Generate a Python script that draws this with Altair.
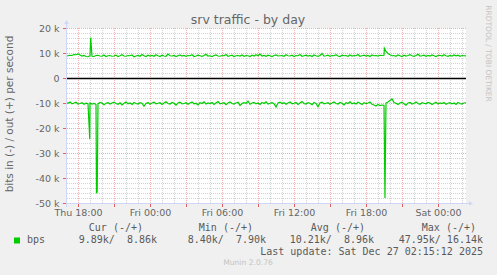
import altair as alt
import pandas as pd

# ---------------- data ----------------
T0 = 17.0          # hours since Thu 00:00 at left edge of plot
STEP = 1.0 / 6.0   # 10-minute samples

out_k = [
    8.7, 8.9, 9.1, 9.0, 9.4, 9.3, 9.6, 9.2, 8.8, 9.0, 8.6, 8.5,
    8.9, 8.7, 8.6, 9.0, 9.1, 8.8, 8.7, 9.2, 8.6, 8.9, 9.0, 8.7,
    8.8, 9.1, 8.6, 8.9, 9.3, 8.8, 8.7, 9.0, 8.9, 9.2, 8.5, 8.8,
    9.0, 8.7, 9.4, 8.9, 8.6, 9.1, 8.8, 9.0, 8.7, 9.3, 8.9, 8.6,
    9.1, 8.8, 8.7, 9.6, 8.9, 8.8, 9.0, 8.6, 8.9, 9.2, 8.8, 9.0,
    8.7, 9.0, 8.9, 9.3, 8.6, 8.8, 9.1, 8.9, 8.7, 9.0, 9.5, 8.8,
    8.9, 8.6, 9.0, 9.2, 8.8, 8.7, 9.0, 8.9, 9.4, 8.7, 8.9, 9.1,
    8.6, 8.9, 9.0, 8.8, 9.2, 8.7, 9.0, 8.9, 8.6, 9.1, 8.8, 9.3,
    8.9, 9.6, 8.8, 9.0, 8.7, 9.1, 8.9, 8.6, 9.0, 9.2, 8.8, 8.9,
    9.0, 8.7, 9.3, 8.9, 8.8, 9.1, 8.6, 9.0, 8.9, 9.4, 8.7, 8.9,
    9.1, 8.8, 9.0, 8.6, 9.2, 8.9, 8.7, 9.0, 9.8, 8.8, 8.9, 9.1,
    8.7, 9.0, 8.9, 9.3, 8.8, 8.6, 9.1, 8.9, 9.0, 8.7, 9.2, 8.8,
    9.0, 8.9, 9.4, 8.7, 8.9, 9.1, 8.8, 9.0, 8.6, 9.2, 8.9, 9.0,
    8.8, 9.1, 9.0, 9.1, 10.6, 9.8, 9.3, 8.9, 9.0, 8.7, 9.2, 8.9,
    8.6, 9.1, 8.8, 9.0, 9.3, 8.9, 8.7, 9.0, 9.5, 8.8, 8.9, 9.1,
    8.7, 9.0, 8.8, 9.2, 8.9, 8.6, 9.0, 9.1, 8.8, 9.3, 8.9, 8.7,
    9.0, 8.8, 9.2, 8.9, 9.1, 8.7, 9.0, 8.9, 8.86,
]
in_k = [
    9.8, 10.1, 9.6, 10.3, 10.0, 9.7, 10.4, 10.2, 9.9, 10.5, 10.1, 10.3,
    10.0, 10.4, 10.2, 10.6, 10.3, 9.8, 10.0, 10.7, 10.1, 9.9, 10.4, 10.0,
    9.7, 10.2, 10.5, 9.9, 10.8, 10.1, 9.6, 10.3, 10.0, 10.6, 9.8, 10.2,
    10.4, 9.9, 10.1, 11.3, 10.2, 9.8, 10.5, 10.0, 9.7, 10.3, 10.1, 9.9,
    10.6, 10.0, 9.5, 10.2, 10.4, 9.8, 10.1, 10.9, 10.0, 9.7, 10.3, 10.2,
    9.9, 10.5, 10.0, 9.6, 10.3, 10.1, 10.8, 9.9, 10.2, 9.5, 10.4, 10.0,
    10.2, 9.8, 10.6, 10.0, 9.4, 10.3, 10.1, 9.9, 10.7, 10.0, 9.6, 10.2,
    10.4, 10.0, 9.7, 11.0, 10.2, 9.9, 10.1, 9.3, 10.5, 10.0, 9.8, 10.3,
    10.0, 10.6, 9.8, 10.2, 9.5, 10.4, 10.1, 9.9, 10.3, 11.6, 10.0, 9.7,
    10.2, 9.9, 10.5, 10.0, 9.6, 10.3, 10.1, 9.8, 10.6, 10.0, 9.4, 10.2,
    10.4, 9.9, 10.1, 10.7, 9.8, 10.2, 11.5, 10.0, 9.7, 10.3, 10.1, 9.9,
    10.5, 10.0, 9.6, 10.2, 10.4, 9.8, 10.1, 10.8, 9.9, 10.2, 9.5, 10.3,
    10.0, 10.4, 9.7, 10.1, 10.6, 9.9, 10.2, 10.0, 9.6, 10.5, 10.8, 11.2,
    10.6, 11.0, 10.8, 10.9, 10.0, 9.6, 9.0, 8.4, 9.8, 10.1, 10.6, 10.0,
    9.7, 10.3, 10.9, 10.0, 9.8, 10.4, 10.1, 9.6, 10.2, 10.5, 9.9, 10.1,
    10.3, 9.8, 10.0, 10.6, 10.1, 9.7, 10.4, 10.0, 10.2, 9.8, 10.5, 10.1,
    9.9, 10.3, 10.0, 10.6, 9.8, 10.2, 10.4, 10.0, 9.89,
]
# short bursts (hours, k)
out_spike_t = [19.06, 43.53]
out_spike_k = [16.14, 11.9]
in_spike_t = [18.98, 19.54, 19.60, 43.58]
in_spike_k = [24.5, 46.1, 45.5, 47.95]

x_label_hours = [18, 24, 30, 36, 42, 48]
x_labels = ["Thu 18:00", "Fri 00:00", "Fri 06:00", "Fri 12:00", "Fri 18:00", "Sat 00:00"]
y_major = [20000, 10000, 0, -10000, -20000, -30000, -40000, -50000]
y_labels = ["20 k", "10 k", "0", "-10 k", "-20 k", "-30 k", "-40 k", "-50 k"]
y_minor = [v for v in range(-48000, 20000, 2000) if v % 10000 != 0]
x_minor = [h for h in range(18, 51) if h % 3 != 0]
x_major = [h for h in range(18, 51) if h % 3 == 0]

legend_headers = ["Cur (-/+)", "Min (-/+)", "Avg (-/+)", "Max (-/+)"]
legend_values = ["9.89k/  8.86k", "8.40k/  7.90k", "10.21k/  8.96k", "47.95k/ 16.14k"]
last_update = "Last update: Sat Dec 27 02:15:12 2025"

rows = []
for i, v in enumerate(out_k):
    rows.append({"t": T0 + i * STEP, "v": v * 1000, "s": "out"})
for t, v in zip(out_spike_t, out_spike_k):
    rows.append({"t": t, "v": v * 1000, "s": "out"})
for i, v in enumerate(in_k):
    rows.append({"t": T0 + i * STEP, "v": -v * 1000, "s": "in"})
for t, v in zip(in_spike_t, in_spike_k):
    rows.append({"t": t, "v": -v * 1000, "s": "in"})
df = pd.DataFrame(rows).sort_values(["s", "t"]).reset_index(drop=True)

# ---------------- scales / helpers ----------------
W, H = 400, 175
xscale = alt.Scale(domain=[T0, T0 + 400 / 12], nice=False, zero=False)
yscale = alt.Scale(domain=[-50000, 20000], nice=False, zero=False)

xexpr = " : ".join(f"datum.value == {h} ? '{l}'" for h, l in zip(x_label_hours, x_labels)) + " : ''"
yexpr = " : ".join(f"datum.value == {v} ? '{l}'" for v, l in zip(y_major, y_labels)) + " : ''"

FONT = "DejaVu Sans"
MONO = "DejaVu Sans Mono"
FC = "#666666"
GRID = "#D4D4D4"
MGRID = "#EDB0B0"
AXIS = "#CFD6F8"

XAXIS = alt.Axis(
    values=x_label_hours, labelExpr=xexpr, title=None, grid=False, domain=False,
    ticks=False, labelPadding=4, labelFont=FONT, labelFontSize=9.5, labelColor=FC,
    labelOverlap=False, labelFlush=False)
YAXIS = alt.Axis(
    values=y_major, labelExpr=yexpr, title=None, grid=False, domain=False,
    ticks=False, labelPadding=7, labelFont=FONT, labelFontSize=9.5, labelColor=FC,
    labelOverlap=False, labelFlush=False)

one = alt.Data(values=[{"a": 1}])


def nb(s):
    return s.replace(" ", "\u00a0")


def text(t, x, y, size=10, font=FONT, color=FC, align="left", baseline="middle", angle=0):
    return alt.Chart(one).mark_text(
        text=t, font=font, fontSize=size, color=color, align=align,
        baseline=baseline, angle=angle
    ).encode(x=alt.value(x), y=alt.value(y))


def X(field):
    return alt.X(field, scale=xscale, axis=XAXIS)


def Y(field):
    return alt.Y(field, scale=yscale, axis=YAXIS)


hgrid_minor = alt.Chart(pd.DataFrame({"v": y_minor})).mark_rule(
    color=GRID, strokeWidth=1, strokeDash=[1, 1], yOffset=0.5
).encode(y=Y("v:Q"))
vgrid_minor = alt.Chart(pd.DataFrame({"t": x_minor})).mark_rule(
    color=GRID, strokeWidth=1, strokeDash=[1, 1], xOffset=0.5
).encode(x=X("t:Q"))
hgrid_major = alt.Chart(pd.DataFrame({"v": y_major})).mark_rule(
    color=MGRID, strokeWidth=1, strokeDash=[1, 1], yOffset=0.5
).encode(y=Y("v:Q"))
vgrid_major = alt.Chart(pd.DataFrame({"t": x_major})).mark_rule(
    color=MGRID, strokeWidth=1, strokeDash=[1, 1], xOffset=0.5
).encode(x=X("t:Q"))

zero_line = alt.Chart(pd.DataFrame({"v": [0]})).mark_rule(
    color="#000000", strokeWidth=1.6, yOffset=0.5
).encode(y=Y("v:Q"))

lines = alt.Chart(df).mark_line(color="#00CC00", strokeWidth=1.2, clip=True).encode(
    x=X("t:Q"), y=Y("v:Q"), detail="s:N",
)

# axis lines, arrows and tick marks
yaxis_line = alt.Chart(one).mark_rule(color=AXIS, strokeWidth=1).encode(
    x=alt.value(0.5), y=alt.value(179), y2=alt.value(-6))
xaxis_line = alt.Chart(one).mark_rule(color=AXIS, strokeWidth=1).encode(
    x=alt.value(-4), x2=alt.value(404), y=alt.value(175.5))
arrow_up = alt.Chart(one).mark_point(shape="triangle-up", filled=True, size=22, color=AXIS, opacity=1).encode(
    x=alt.value(0.5), y=alt.value(-6))
arrow_right = alt.Chart(one).mark_point(shape="triangle-right", filled=True, size=22, color=AXIS, opacity=1).encode(
    x=alt.value(405), y=alt.value(175.5))
xticks = alt.Chart(pd.DataFrame({"t": x_major})).mark_rule(color="#E86060", strokeWidth=1, xOffset=0.5).encode(
    x=X("t:Q"), y=alt.value(176), y2=alt.value(179))
yticks = alt.Chart(pd.DataFrame({"v": y_major})).mark_rule(color="#E86060", strokeWidth=1, yOffset=0.5).encode(
    y=Y("v:Q"), x=alt.value(-3), x2=alt.value(0))

# texts (origin is plot top-left at page (66, 28))
title = text("srv traffic - by day", 182, -4, size=12.5, align="center", baseline="alphabetic")
ytitle = text("bits in (-) / out (+) per second", -56, 86, size=10.5, align="center", angle=270)
rrd = text("RRDTOOL / TOBI OETIKER", 422, 25.5, size=7.5, color="#C4C4C4", align="center", angle=90)
munin = text("Munin 2.0.76", 182, 235, size=7.6, color="#C4C4C4", align="center")

legend_sq = alt.Chart(one).mark_square(size=36, color="#00CC00", opacity=1).encode(
    x=alt.value(-49), y=alt.value(212.5))
LC = "#5A5A5A"
legend_layers = [legend_sq, text("bps", -39, 212, font=MONO, color=LC)]
for h, xr in zip(legend_headers, [77, 187, 299, 410]):
    legend_layers.append(text(nb(h), xr, 199.5, font=MONO, color=LC, align="right"))
for v, xr in zip(legend_values, [91, 200, 308, 417]):
    legend_layers.append(text(nb(v), xr, 212, font=MONO, color=LC, align="right"))
legend_layers.append(text(nb(last_update), 417, 223.7, font=MONO, color=LC, align="right"))

chart = alt.layer(
    hgrid_minor, vgrid_minor, hgrid_major, vgrid_major, zero_line, lines,
    yaxis_line, xaxis_line, arrow_up, arrow_right, xticks, yticks,
    title, ytitle, rrd, munin, *legend_layers,
).properties(
    width=W, height=H,
    autosize="none",
    padding={"left": 66, "top": 28, "right": 31, "bottom": 72},
    background="#F0F0F0",
).configure_view(fill="white", strokeWidth=0)

chart.save("out.html", embed_options={"renderer": "svg", "actions": False})
